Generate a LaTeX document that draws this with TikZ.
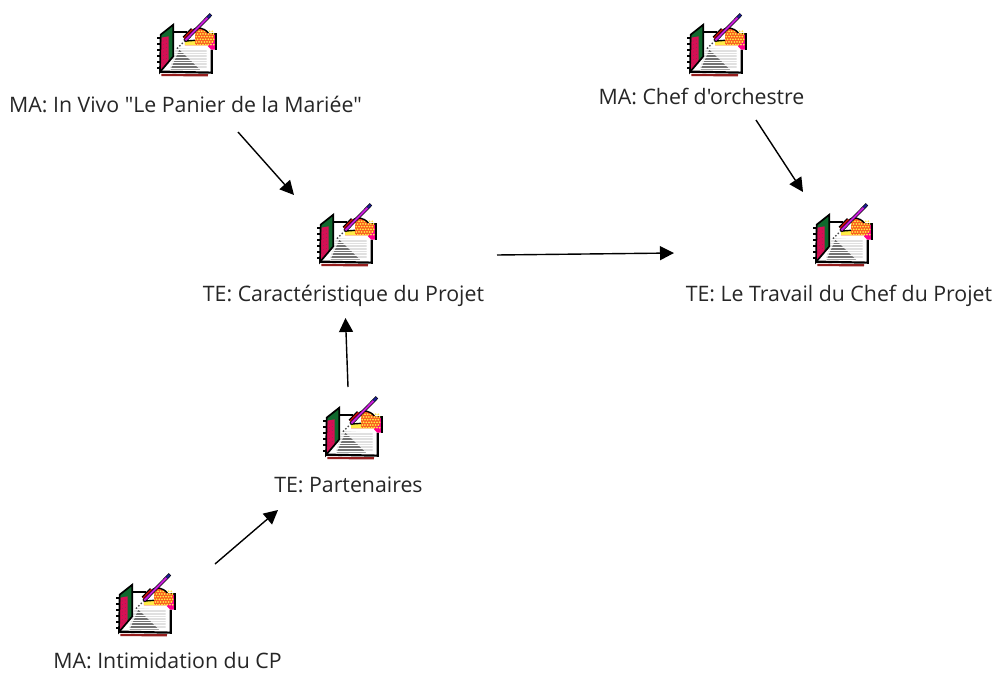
\documentclass[tikz,border=0pt]{standalone}
\usepackage{fontspec}
\setmainfont{Open Sans}[Ligatures=TeXOff]
\usetikzlibrary{arrows.meta,calc}
\definecolor{cvgreen}{RGB}{15,105,45}
\definecolor{cvcrimson}{RGB}{215,15,85}
\definecolor{handorange}{RGB}{250,90,30}
\definecolor{handyellow}{RGB}{255,235,70}
\definecolor{penpurple}{RGB}{200,30,220}
\definecolor{pennavy}{RGB}{30,30,150}
\definecolor{pinkish}{RGB}{255,0,140}
\definecolor{shadowred}{RGB}{150,30,30}
\tikzset{
  lab/.style={inner sep=0pt,font=\fontsize{21.3pt}{24pt}\selectfont,text=black!85,anchor=base},
  iconbox/.style={inner sep=0pt,minimum width=62pt,minimum height=64pt,anchor=north west},
  conn/.style={draw=black,line width=1.4pt,-{Triangle[length=14pt,width=14pt]}},
  notebook/.pic={
    \begin{scope}[x=0.3333pt,y=-0.3333pt,shift={(-45,-40)}]
      % shadow
      \draw[shadowred,line width=2.2pt] (64,226) -- (204,227);
      % page
      \fill[white] (100,100) -- (215,100) -- (215,220) -- (60,216) -- cycle;
      \fill[black!12] (108,145) -- (200,150) -- (200,205) -- (90,205) -- cycle;
      \fill[black!55] (92,210) -- (118,150) -- (180,210) -- cycle;
      \foreach \y in {150,158,166,174,182,190,198,206}
        \draw[white,line width=1pt] (90,\y) -- (206,\y);
      \draw[black,line width=2.2pt] (100,97) -- (140,97);
      \draw[black,line width=2.2pt] (215,150) -- (215,219) -- (60,216);
      % cover
      \fill[cvgreen] (62,105) -- (100,75) -- (100,170) -- (60,217) -- cycle;
      \fill[cvcrimson] (64,114) -- (86,110) -- (86,188) -- (62,214) -- cycle;
      \foreach \i in {0,...,6} \foreach \j in {0,1}
        \fill[black!70] ({70+\j*9},{124+\i*11-\j*3}) circle (0.4pt);
      \draw[black,line width=1.7pt] (62,105) -- (100,75) -- (100,170) -- (60,217) -- cycle;
      % spiral
      \foreach \i in {0,...,5}
        \draw[black,line width=2pt] (62,{114+\i*18}) -- (50,{114+\i*18});
      % hand
      \fill[pinkish] (205,103) -- (228,103) -- (228,150) -- (214,150) -- (204,140) -- cycle;
      \draw[black,line width=1.2pt] (205,103) -- (228,103) -- (228,150);
      \fill[handorange] (160,90) .. controls (170,82) and (190,82) .. (205,100)
         -- (222,103) -- (222,125) -- (205,137) -- (135,137) -- (135,125) -- (165,122) -- cycle;
      \foreach \i in {0,...,5} \foreach \j in {0,...,7}
        \fill[handyellow] ({161+\j*8+mod(\i,2)*4},{95+\i*8}) circle (1pt);
      \fill[handyellow] (135,125) -- (165,125) -- (165,137) -- (135,137) -- cycle;
      \fill[white] (140,100) -- (165,100) -- (165,122) -- (140,122) -- cycle;
      \draw[black,line width=1.4pt] (160,90) .. controls (170,82) and (190,82) .. (205,100);
      \draw[black,line width=1.4pt] (138,124) -- (165,122);
      \draw[black,line width=4.6pt] (133,116) -- (158,90);
      \draw[shadowred!40!red,line width=2.2pt] (133,116) -- (158,90);
      % pen
      \draw[black,line width=3.4pt] (134,124) -- (213,44);
      \draw[black!70,line width=1.4pt,dotted] (111,147) -- (134,124);
      \draw[penpurple,line width=2pt] (136,122) -- (203,54);
      \draw[pennavy,line width=2.2pt] (203,54) -- (212,45);
    \end{scope}
  }
}
\begin{document}
\begin{tikzpicture}[x=1pt,y=-1pt]
\useasboundingbox[fill=white] (0,0) rectangle (999,674);
% icons
\node[iconbox] (ic1) at (155,13) {};  \pic at (ic1.north west) {notebook};
\node[iconbox] (ic2) at (315,203) {}; \pic at (ic2.north west) {notebook};
\node[iconbox] (ic3) at (321,396) {}; \pic at (ic3.north west) {notebook};
\node[iconbox] (ic4) at (114,573) {}; \pic at (ic4.north west) {notebook};
\node[iconbox] (ic5) at (685,13) {};  \pic at (ic5.north west) {notebook};
\node[iconbox] (ic6) at (811,203) {}; \pic at (ic6.north west) {notebook};
% labels
\node[lab] (l1) at (185.5,113) {MA: In Vivo "Le Panier de la Mariée"};
\node[lab] (l2) at (343.5,301) {TE: Caractéristique du Projet};
\node[lab] (l3) at (348.5,492) {TE: Partenaires};
\node[lab] (l4) at (167.5,668) {MA: Intimidation du CP};
\node[lab] (l5) at (701.5,105) {MA: Chef d'orchestre};
\node[lab] (l6) at (839,301) {TE: Le Travail du Chef du Projet};
% connectors
\draw[conn] ($(l1.base)+(52.5,19)$) -- ($(ic2.north west)+(-21,-8)$);
\draw[conn] ($(l2.base)+(153.5,-46)$) -- ($(l6.base)+(-165,-48)$);
\draw[conn] ($(l3.base)+(-0.5,-105)$) -- ($(l2.base)+(2,17)$);
\draw[conn] ($(l4.base)+(47.5,-104)$) -- ($(l3.base)+(-70.5,18)$);
\draw[conn] ($(l5.base)+(54.5,15)$) -- ($(ic6.north west)+(-8,-11)$);
\end{tikzpicture}
\end{document}
